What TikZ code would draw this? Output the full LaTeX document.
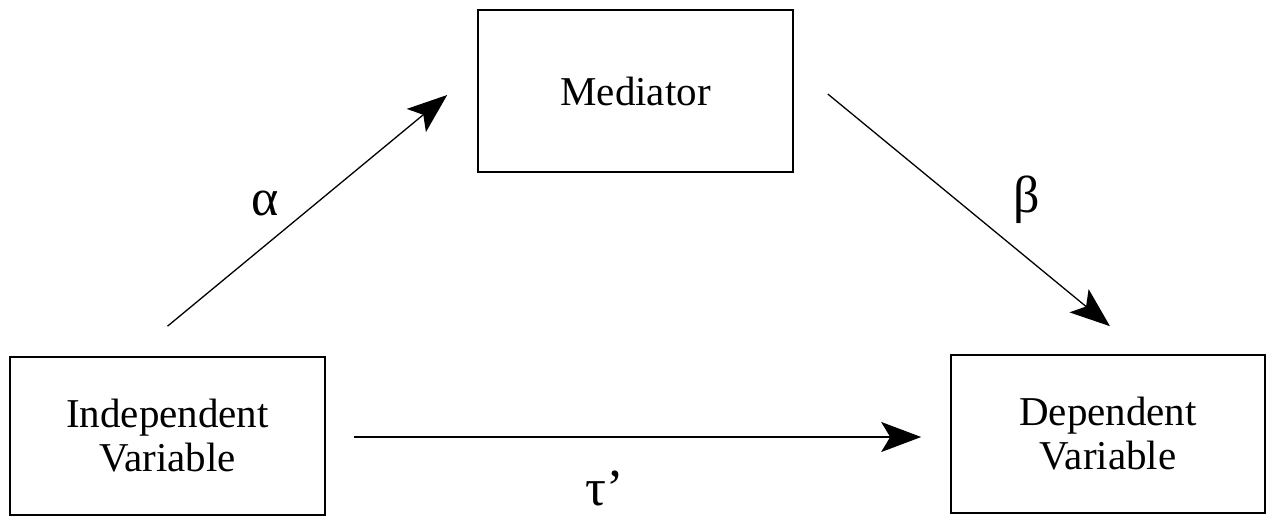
\documentclass[tikz,border=0pt]{standalone}
\usepackage{fontspec}
\setmainfont{Liberation Serif}
\usetikzlibrary{arrows.meta}

\begin{document}
\begin{tikzpicture}[x=1pt,y=-1pt,>={Stealth[length=40pt,width=30pt,inset=9pt]},
    box/.style={draw,line width=1.6pt,minimum width=315pt,minimum height=158pt,
        align=center,font=\fontsize{41}{44}\selectfont},
    coef/.style={font=\fontsize{52}{52}\selectfont}]
    \useasboundingbox (0,0) rectangle (1272,517);
    % the three variables
    \node[box,minimum height=162pt] (med) at (635.5,91) {Mediator};
    \node[box] (indep) at (167.5,436) {Independent\\Variable};
    \node[box,minimum width=314pt] (dep) at (1108,434) {Dependent\\Variable};
    % paths
    \draw[->,line width=1.3pt] ([yshift=30pt]indep.north) -- ([xshift=-30pt,yshift=-4pt]med.west);
    \draw[->,line width=1.3pt] ([xshift=34pt,yshift=-3pt]med.east) -- ([xshift=2pt,yshift=28pt]dep.north);
    \draw[->,line width=2pt] ([xshift=28pt,yshift=-1pt]indep.east) -- ([xshift=-29pt,yshift=-3pt]dep.west);
    \node[coef] (alpha) at (265,203) {α};
    \node[coef] (beta) at (1027,200) {β};
    \node[coef] (tau) at (605,488) {τ’};
\end{tikzpicture}
\end{document}
